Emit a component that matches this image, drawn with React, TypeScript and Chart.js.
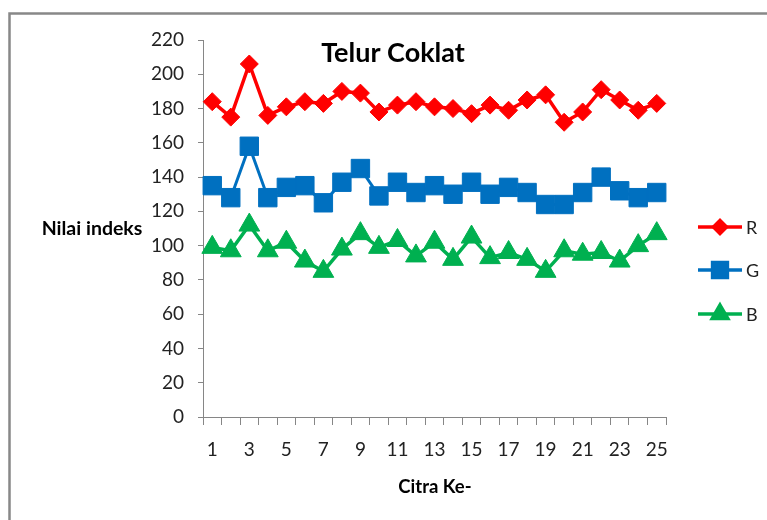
import React, { useEffect, useRef } from "react";
import { Chart, registerables } from "chart.js";
import { drawPoint } from "chart.js/helpers";

Chart.register(...registerables);

const categories = ["1","2","3","4","5","6","7","8","9","10","11","12","13","14","15","16","17","18","19","20","21","22","23","24","25"];
const seriesR = [184, 175, 206, 176, 181, 184, 183, 190, 189, 178, 182, 184, 181, 180, 177, 182, 179, 185, 188, 172, 178, 191, 185, 179, 183];
const seriesG = [135, 128, 158, 128, 134, 135, 125, 137, 145, 129, 137, 131, 135, 130, 137, 130, 134, 131, 124, 124, 131, 140, 132, 128, 131];
const seriesB = [99, 97, 112, 97, 102, 91, 85, 98, 107, 99, 103, 94, 102, 92, 105, 93, 96, 92, 85, 97, 95, 96, 91, 100, 107];
const seriesNames = ["R", "G", "B"];
const chartTitle = "Telur Coklat";
const yTitle = "Nilai indeks";
const xTitle = "Citra Ke-";

const FONT = "Lato, 'Open Sans', sans-serif";

export default function App() {
  const ref = useRef<HTMLCanvasElement | null>(null);

  useEffect(() => {
    document.body.style.margin = "0";
    const canvas = ref.current;
    if (!canvas) return;

    const legendMarkers = [
      { style: "rectRot", radius: 6.5 },
      { style: "rect", radius: 10.5 },
      { style: "triangle", radius: 9 },
    ];
    const legendY = [227, 270, 314];

    const decorPlugin = {
      id: "decor",
      afterDraw(chart: any) {
        const ctx = chart.ctx as CanvasRenderingContext2D;
        ctx.save();
        // frame
        ctx.strokeStyle = "#888888";
        ctx.lineWidth = 2.5;
        ctx.beginPath();
        ctx.moveTo(9.5, 530);
        ctx.lineTo(9.5, 13.5);
        ctx.lineTo(780, 13.5);
        ctx.stroke();
        // texts
        ctx.fillStyle = "#000000";
        ctx.textAlign = "center";
        ctx.textBaseline = "middle";
        ctx.font = `bold 27px ${FONT}`;
        ctx.fillText(chartTitle, 393, 53);
        ctx.font = `bold 19.5px ${FONT}`;
        ctx.fillText(yTitle, 92, 229);
        ctx.font = `bold 18.5px ${FONT}`;
        ctx.fillText(xTitle, 435, 487);
        // legend
        chart.data.datasets.forEach((ds: any, i: number) => {
          const y = legendY[i];
          ctx.strokeStyle = ds.borderColor;
          ctx.lineWidth = 3.5;
          ctx.beginPath();
          ctx.moveTo(698, y);
          ctx.lineTo(742, y);
          ctx.stroke();
          ctx.fillStyle = ds.backgroundColor;
          ctx.strokeStyle = ds.borderColor;
          drawPoint(ctx, { pointStyle: legendMarkers[i].style, radius: legendMarkers[i].radius, rotation: 0, borderWidth: 1 } as any, 720, y);
          ctx.fillStyle = "#222222";
          ctx.textAlign = "left";
          ctx.font = `18px ${FONT}`;
          ctx.fillText(ds.label, 746, y + 1);
        });
        ctx.restore();
      },
    };

    const axisColor = "#868686";

    const chart = new Chart(canvas, {
      type: "line",
      data: {
        labels: categories,
        datasets: [
          {
            label: seriesNames[0],
            data: seriesR,
            borderColor: "#FF0000",
            backgroundColor: "#FF0000",
            borderWidth: 3.5,
            pointStyle: "rectRot",
            pointRadius: 9,
            pointBorderWidth: 1,
            tension: 0,
          },
          {
            label: seriesNames[1],
            data: seriesG,
            borderColor: "#0070C0",
            backgroundColor: "#0070C0",
            borderWidth: 3,
            pointStyle: "rect",
            pointRadius: 13,
            pointBorderWidth: 1,
            tension: 0,
          },
          {
            label: seriesNames[2],
            data: seriesB,
            borderColor: "#00B050",
            backgroundColor: "#00B050",
            borderWidth: 3.5,
            pointStyle: "triangle",
            pointRadius: 12,
            pointBorderWidth: 1,
            tension: 0,
          },
        ],
      },
      options: {
        responsive: false,
        animation: false,
        devicePixelRatio: 1,
        layout: { padding: { left: 0, right: 101, top: 40, bottom: 0 } },
        plugins: {
          legend: { display: false },
          title: { display: false },
          tooltip: { enabled: false },
        },
        scales: {
          x: {
            type: "category",
            offset: true,
            grid: {
              display: true,
              offset: true,
              drawOnChartArea: false,
              drawTicks: true,
              tickLength: 8,
              color: axisColor,
            },
            border: { display: true, color: axisColor, width: 1 },
            ticks: {
              autoSkip: false,
              maxRotation: 0,
              minRotation: 0,
              padding: 13,
              color: "#222222",
              font: { family: FONT, size: 19 },
              callback: (_v: any, i: number) => (i % 2 === 0 ? categories[i] : ""),
            },
            afterFit: (s: any) => {
              s.height = 103;
            },
          },
          y: {
            min: 0,
            max: 220,
            grid: {
              display: true,
              drawOnChartArea: false,
              drawTicks: true,
              tickLength: 5,
              color: axisColor,
            },
            border: { display: true, color: axisColor, width: 1 },
            ticks: {
              stepSize: 20,
              padding: 14,
              color: "#222222",
              font: { family: FONT, size: 19 },
            },
            afterFit: (s: any) => {
              s.width = 203;
            },
          },
        },
      },
      plugins: [decorPlugin],
    });

    return () => chart.destroy();
  }, []);

  return <canvas ref={ref} width={767} height={520} style={{ display: "block" }} />;
}
